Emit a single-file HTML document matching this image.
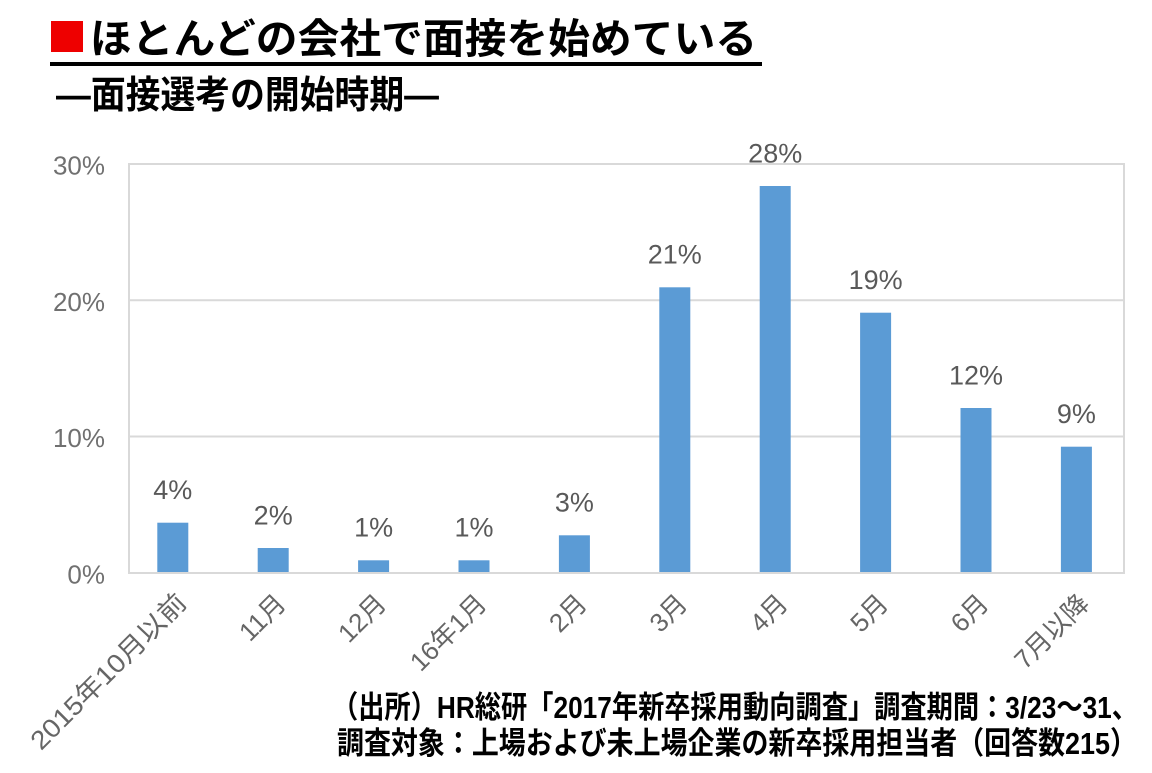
<!DOCTYPE html>
<html>
<head>
<meta charset="utf-8">
<style>
  html, body { margin:0; padding:0; background:#ffffff; }
  svg { display:block; }
  .ttl { font-family:"Liberation Sans","Noto Sans CJK JP",sans-serif; font-weight:bold; fill:#000; }
  .ax { font-family:"Liberation Sans","Noto Sans CJK JP",sans-serif; font-size:26px; fill:#707070; }
  .dl { font-family:"Liberation Sans","Noto Sans CJK JP",sans-serif; font-size:27px; fill:#595959; }
  .xl { font-family:"Liberation Sans","Noto Sans CJK JP",sans-serif; font-size:26px; fill:#666666; }
</style>
</head>
<body>
<svg width="1152" height="773" viewBox="0 0 1152 773" xmlns="http://www.w3.org/2000/svg">
  <rect x="0" y="0" width="1152" height="773" fill="#ffffff"/>

  <!-- Title -->
  <rect x="51" y="21" width="32" height="31" fill="#ee0000"/>
  <text class="ttl" x="90" y="53" font-size="41" textLength="667" lengthAdjust="spacingAndGlyphs">ほとんどの会社で面接を始めている</text>
  <rect x="50" y="62" width="712" height="4" fill="#000"/>
  <text class="ttl" x="56" y="108" font-size="38" textLength="383" lengthAdjust="spacingAndGlyphs">―面接選考の開始時期―</text>

  <!-- Plot area -->
  <g stroke="#d9d9d9" stroke-width="2" fill="none">
    <line x1="129" y1="164" x2="1124" y2="164"/>
    <line x1="129" y1="300.3" x2="1124" y2="300.3"/>
    <line x1="129" y1="436.5" x2="1124" y2="436.5"/>
    <line x1="129" y1="573" x2="1124" y2="573"/>
    <line x1="129" y1="163" x2="129" y2="574"/>
    <line x1="1124" y1="163" x2="1124" y2="574"/>
  </g>

  <!-- Y axis labels -->
  <g class="ax" text-anchor="end">
    <text x="105" y="174.5">30%</text>
    <text x="105" y="310.8">20%</text>
    <text x="105" y="447">10%</text>
    <text x="105" y="583.5">0%</text>
  </g>

  <!-- Bars -->
  <g fill="#5b9bd5">
    <rect x="157.3" y="522.7" width="31" height="49.3"/>
    <rect x="257.7" y="548" width="31" height="24"/>
    <rect x="358.1" y="560.3" width="31" height="11.7"/>
    <rect x="458.5" y="560.3" width="31" height="11.7"/>
    <rect x="558.9" y="535.3" width="31" height="36.7"/>
    <rect x="659.3" y="287.3" width="31" height="284.7"/>
    <rect x="759.7" y="186" width="31" height="386"/>
    <rect x="860.1" y="312.7" width="31" height="259.3"/>
    <rect x="960.5" y="408" width="31" height="164"/>
    <rect x="1060.9" y="446.7" width="31" height="125.3"/>
  </g>

  <!-- Data labels -->
  <g class="dl" text-anchor="middle">
    <text x="172.8" y="499">4%</text>
    <text x="273.2" y="524.3">2%</text>
    <text x="373.6" y="536.6">1%</text>
    <text x="474.0" y="536.6">1%</text>
    <text x="574.4" y="511.6">3%</text>
    <text x="674.8" y="263.6">21%</text>
    <text x="775.2" y="162.3">28%</text>
    <text x="875.6" y="289">19%</text>
    <text x="976.0" y="384.3">12%</text>
    <text x="1076.4" y="423">9%</text>
  </g>

  <!-- X axis labels (rotated -45) -->
  <g class="xl" text-anchor="end">
    <g transform="translate(174,590) rotate(-45)"><text x="0" y="20" textLength="208" lengthAdjust="spacingAndGlyphs">2015年10月以前</text></g>
    <g transform="translate(273.2,591) rotate(-45)"><text x="0" y="20">11月</text></g>
    <g transform="translate(373.6,591) rotate(-45)"><text x="0" y="20">12月</text></g>
    <g transform="translate(474.0,591) rotate(-45)"><text x="0" y="20">16年1月</text></g>
    <g transform="translate(574.4,591) rotate(-45)"><text x="0" y="20">2月</text></g>
    <g transform="translate(674.8,591) rotate(-45)"><text x="0" y="20">3月</text></g>
    <g transform="translate(775.2,591) rotate(-45)"><text x="0" y="20">4月</text></g>
    <g transform="translate(875.6,591) rotate(-45)"><text x="0" y="20">5月</text></g>
    <g transform="translate(976.0,591) rotate(-45)"><text x="0" y="20">6月</text></g>
    <g transform="translate(1076.4,591) rotate(-45)"><text x="0" y="20">7月以降</text></g>
  </g>

  <!-- Source -->
  <text class="ttl" x="332" y="718" font-size="31" textLength="806" lengthAdjust="spacingAndGlyphs">（出所）HR総研「2017年新卒採用動向調査」調査期間：3/23〜31、</text>
  <text class="ttl" x="337" y="754" font-size="31" textLength="800" lengthAdjust="spacingAndGlyphs">調査対象：上場および未上場企業の新卒採用担当者（回答数215）</text>
</svg>
</body>
</html>
